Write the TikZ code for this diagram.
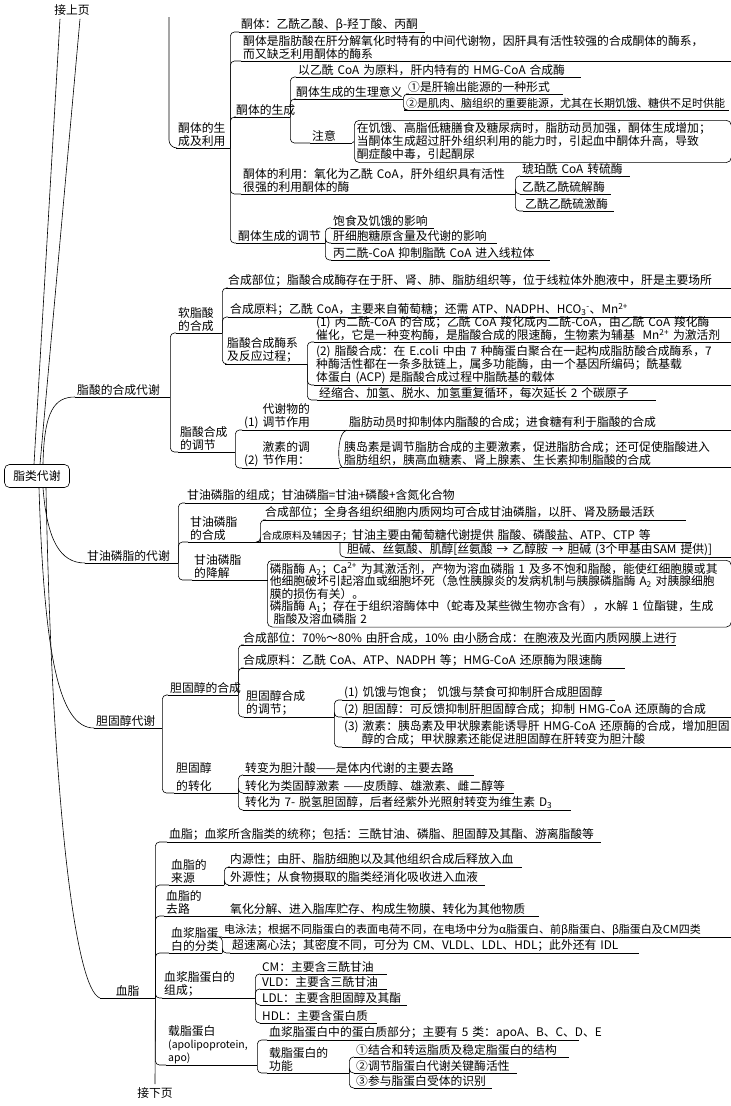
\documentclass[tikz,border=0pt]{standalone}
\usepackage{fontspec}
\setmainfont{Noto Sans CJK SC}
\hyphenpenalty=10000
\exhyphenpenalty=10000

\begin{document}
\begin{tikzpicture}[x=1pt, y=-1pt,
    font=\fontsize{11.8}{13}\selectfont,
    ln/.style={line width=0.6pt},
    br/.style={ln, rounded corners=4pt},
    lf/.style={anchor=south west, align=left, inner xsep=2pt, inner ysep=1pt,
               text width=#1pt,
               append after command={\pgfextra{\let\ulnode\tikzlastnode}
                 (\ulnode.south west) edge[ln] (\ulnode.south east)}},
    box/.style={draw, ln, rounded corners=5pt, anchor=north west, align=left,
                inner sep=2.5pt, text width=#1pt},
    tight/.style={font=\fontsize{11}{13}\selectfont},
  ]
  \useasboundingbox (0,0) rectangle (731,1106);

  % root and page links
  \node[draw, ln, rounded corners=5pt, minimum width=65pt, minimum height=23pt] (root) at (37,476) {脂类代谢};
  \node (shang) at (72,10) {接上页};
  \node (xia) at (155,1093) {接下页};
  \coordinate (kTop) at (169,17);

  % ketone bodies
  \node[lf=50]  (k0)  at (176,148) {酮体的生\\成及利用};
  \node[lf=182] (k1)  at (239,32)  {酮体：乙酰乙酸、β-羟丁酸、丙酮};
  \node[lf=486] (k2)  at (241,61)  {酮体是脂肪酸在肝分解氧化时特有的中间代谢物，因肝具有活性较强的合成酮体的酶系，\\而又缺乏利用酮体的酶系};
  \node[lf=52]  (k3)  at (234,117) {酮体的生成};
  \node[lf=270] (k4)  at (241,194) {酮体的利用：氧化为乙酰~CoA，肝外组织具有活性\\很强的利用酮体的酶};
  \node[lf=85]  (k5)  at (236,243) {酮体生成的调节};
  \node[lf=281] (k31) at (296,77)  {以乙酰~CoA~为原料，肝内特有的~HMG-CoA~合成酶};
  \node[lf=105] (k32) at (294,99)  {酮体生成的生理意义};
  \node[lf=38]  (k33) at (310,143) {注意};
  \node[box=372] (k33b) at (354,120) {在饥饿、高脂低糖膳食及糖尿病时，脂肪动员加强，酮体生成增加；\\当酮体生成超过肝外组织利用的能力时，引起血中酮体升高，导致\\酮症酸中毒，引起酮尿};
  \node[lf=153] (k321) at (406,94)  {①是肝输出能源的一种形式};
  \node[lf=321, tight] (k322) at (404,110) {②是肌肉、脑组织的重要能源，尤其在长期饥饿、糖供不足时供能};
  \node[lf=106] (k41) at (520,176) {琥珀酰~CoA~转硫酶};
  \node[lf=87]  (k42) at (520,194) {乙酰乙酰硫解酶};
  \node[lf=87]  (k43) at (523,211) {乙酰乙酰硫激酶};
  \node[lf=99]  (k51) at (331,228) {饱食及饥饿的影响};
  \node[lf=162] (k52) at (331,243) {肝细胞糖原含量及代谢的影响};
  \node[lf=215] (k53) at (331,260) {丙二酰-CoA~抑制脂酰~CoA~进入线粒体};

  % fatty acid synthesis
  \node[lf=91]  (f0)  at (75,397)  {脂酸的合成代谢};
  \node[lf=42]  (f1)  at (176,333) {软脂酸\\的合成};
  \node[lf=53]  (f2)  at (178,452) {脂酸合成\\的调节};
  \node[lf=501] (f11) at (226,288) {合成部位；脂酸合成酶存在于肝、肾、肺、脂肪组织等，位于线粒体外胞液中，肝是主要场所};
  \node[lf=499] (f12) at (228,317) {合成原料；乙酰~CoA，主要来自葡萄糖；还需~ATP、NADPH、HCO\textsubscript{3}\textsuperscript{-}、Mn\textsuperscript{2+}};
  \node[lf=78]  (f13) at (225,364) {脂酸合成酶系\\及反应过程；};
  \node[lf=413] (f131) at (314,342) {(1)~丙二酰-CoA~的合成；乙酰~CoA~羧化成丙二酰-CoA，由乙酰~CoA~羧化酶\\催化，它是一种变构酶，是脂酸合成的限速酶，生物素为辅基~~Mn\textsuperscript{2+}~为激活剂};
  \node[lf=413] (f132) at (314,385) {(2)~脂酸合成：在~E.coli~中由~7~种酶蛋白聚合在一起构成脂肪酸合成酶系，7\\种酶活性都在一条多肽链上，属多功能酶，由一个基因所编码；酰基载\\体蛋白~(ACP)~是脂酸合成过程中脂酰基的载体};
  \node[lf=335] (f133) at (317,400) {经缩合、加氢、脱水、加氢重复循环，每次延长~2~个碳原子};
  \node[lf=71]  (f21) at (242,430) {\phantom{(1)~}代谢物的\\(1)~调节作用};
  \node[lf=380] (f211) at (347,430) {脂肪动员时抑制体内脂酸的合成；进食糖有利于脂酸的合成};
  \node[lf=93]  (f22) at (242,468) {\phantom{(2)~}激素的调\\(2)~节作用：};
  \node[lf=385] (f221) at (342,467) {胰岛素是调节脂肪合成的主要激素，促进脂肪合成；还可促使脂酸进入\\脂肪组织，胰高血糖素、肾上腺素、生长素抑制脂酸的合成};

  % glycerophospholipids
  \node[lf=89]  (g0)  at (85,563)  {甘油磷脂的代谢};
  \node[lf=291] (g1)  at (185,503) {甘油磷脂的组成；甘油磷脂=甘油+磷酸+含氮化合物};
  \node[lf=68]  (g2)  at (188,542) {甘油磷脂\\的合成};
  \node[lf=71]  (g3)  at (192,580) {甘油磷脂\\的降解};
  \node[lf=419] (g21) at (263,520) {合成部位；全身各组织细胞内质网均可合成甘油磷脂，以肝、肾及肠最活跃};
  \node[lf=428] (g22) at (260,542) {{\fontsize{10}{12}\selectfont 合成原料及辅因子；}甘油主要由葡萄糖代谢提供~脂酸、磷酸盐、ATP、CTP~等};
  \coordinate (g22j) at (340,542);
  \node[lf=382] (g221) at (345,557) {胆碱、丝氨酸、肌醇[丝氨酸~→~乙醇胺~→~胆碱~(3个甲基由SAM~提供)]};
  \node[box=459, font=\fontsize{11.8}{12.6}\selectfont] (g31) at (267,560) {磷脂酶~A\textsubscript{2}；Ca\textsuperscript{2+}~为其激活剂，产物为溶血磷脂~1~及多不饱和脂酸，能使红细胞膜或其\\他细胞破坏引起溶血或细胞坏死（急性胰腺炎的发病机制与胰腺磷脂酶~A\textsubscript{2}~对胰腺细胞\\膜的损伤有关）。\\磷脂酶~A\textsubscript{1}；存在于组织溶酶体中（蛇毒及某些微生物亦含有），水解~1~位酯键，生成\\~脂酸及溶血磷脂~2};

  % cholesterol
  \node[lf=64]  (h0)  at (94,728)  {胆固醇代谢};
  \node[lf=66]  (h1)  at (168,695) {胆固醇的合成};
  \node[lf=60]  (h2)  at (174,793) {胆固醇\\[5pt]的转化};
  \node[lf=431] (h11) at (241,645) {合成部位：70\%～80\%~由肝合成，10\%~由小肠合成：在胞液及光面内质网膜上进行};
  \node[lf=380] (h12) at (241,668) {合成原料：乙酰~CoA、ATP、NADPH~等；HMG-CoA~还原酶为限速酶};
  \node[lf=86]  (h13) at (244,717) {胆固醇合成\\的调节；};
  \node[lf=269] (h131) at (342,700) {(1)~饥饿与饱食；~饥饿与禁食可抑制肝合成胆固醇};
  \node[lf=385] (h132) at (342,717) {(2)~胆固醇：可反馈抑制肝胆固醇合成；抑制~HMG-CoA~还原酶的合成};
  \node[lf=385] (h133) at (342,747) {(3)~激素：胰岛素及甲状腺素能诱导肝~HMG-CoA~还原酶的合成，增加胆固\\\hspace{1.5em}醇的合成；甲状腺素还能促进胆固醇在肝转变为胆汁酸};
  \node[lf=227] (h21) at (243,775) {转变为胆汁酸——是体内代谢的主要去路};
  \node[lf=267] (h22) at (243,793) {转化为类固醇激素~——皮质醇、雄激素、雌二醇等};
  \node[lf=324] (h23) at (243,810) {转化为~7-~脱氢胆固醇，后者经紫外光照射转变为维生素~D\textsubscript{3}};

  % blood lipids
  \node[lf=51, align=center] (b0) at (100,998) {血脂};
  \node[lf=430] (b1)  at (167,842)  {血脂；血浆所含脂类的统称；包括：三酰甘油、磷脂、胆固醇及其酯、游离脂酸等};
  \node[lf=51]  (b2)  at (169,885)  {血脂的\\来源};
  \node[lf=58]  (b3)  at (164,916)  {血脂的\\去路};
  \node[lf=49]  (b4)  at (169,953)  {血浆脂蛋\\白的分类};
  \node[lf=89]  (b5)  at (162,998)  {血浆脂蛋白的\\组成；};
  \node[lf=87]  (b6)  at (166,1065) {载脂蛋白\\{\fontsize{10.5}{13}\selectfont (apolipoprotein,}\\{\fontsize{10.5}{13}\selectfont apo)}};
  \node[lf=290] (b21) at (228,867)  {内源性；由肝、脂肪细胞以及其他组织合成后释放入血};
  \node[lf=253] (b22) at (228,885)  {外源性；从食物摄取的脂类经消化吸收进入血液};
  \node[lf=307] (b31) at (228,916)  {氧化分解、进入脂库贮存、构成生物膜、转化为其他物质};
  \node[lf=505, tight] (b41) at (222,937)  {电泳法；根据不同脂蛋白的表面电荷不同，在电场中分为α脂蛋白、前β脂蛋白、β脂蛋白及CM四类};
  \node[lf=405] (b42) at (230,953)  {超速离心法；其密度不同，可分为~CM、VLDL、LDL、HDL；此外还有~IDL};
  \node[lf=123] (b51) at (260,974)  {\textit{CM}：主要含三酰甘油};
  \node[lf=123] (b52) at (260,989)  {VLD：主要含三酰甘油};
  \node[lf=143] (b53) at (260,1005) {LDL：主要含胆固醇及其酯};
  \node[lf=113] (b54) at (260,1023) {HDL：主要含蛋白质};
  \node[lf=308] (b61) at (267,1040) {血浆脂蛋白中的蛋白质部分；主要有~5~类：apoA、B、C、D、E};
  \node[lf=78]  (b62) at (267,1073) {载脂蛋白的\\功能};
  \node[lf=211] (b621) at (354,1057) {①结合和转运脂质及稳定脂蛋白的结构};
  \node[lf=159] (b622) at (354,1073) {②调节脂蛋白代谢关键酶活性};
  \node[lf=134] (b623) at (354,1088) {③参与脂蛋白受体的识别};

  % trunk lines
  \draw[ln] ([xshift=-3pt]root.north) -- ([xshift=-12pt]shang.south);
  \draw[ln] ([xshift=3pt]root.north) -- ([xshift=8pt]shang.south);
  \draw[ln, rounded corners=8pt] (kTop) |- (k0.south west);
  \draw[ln] ([xshift=6pt]root.north) .. controls (44,410) and (55,397) .. (f0.south west);
  \draw[ln] ([xshift=6pt]root.south) .. controls (47,540) and (60,563) .. (g0.south west);
  \draw[ln] ([xshift=2pt]root.south) .. controls (44,650) and (58,728) .. (h0.south west);
  \draw[ln] ([xshift=9pt]root.south) .. controls (52,800) and (75,990) .. (b0.south west);
  \draw[ln] (b0.south east) -- (xia.north);

  % ketone bodies branches
  \draw[br] (k0.south east) |- (k1.south west);
  \draw[br] (k0.south east) |- (k2.south west);
  \draw[br] (k0.south east) |- (k3.south west);
  \draw[br] (k0.south east) |- (k4.south west);
  \draw[br] (k0.south east) |- (k5.south west);
  \draw[br] (k3.south east) |- (k31.south west);
  \draw[br] (k3.south east) |- (k32.south west);
  \draw[br] (k3.south east) |- (k33.south west);
  \draw[ln] (k33.south east) to[out=0, in=180] (k33b.west);
  \draw[br] (k32.south east) |- (k321.south west);
  \draw[br] (k32.south east) |- (k322.south west);
  \draw[br] (k4.south east) |- (k41.south west);
  \draw[br] (k4.south east) |- (k42.south west);
  \draw[br] (k4.south east) |- (k43.south west);
  \draw[br] (k5.south east) |- (k51.south west);
  \draw[br] (k5.south east) |- (k52.south west);
  \draw[br] (k5.south east) |- (k53.south west);

  % fatty acid branches
  \draw[br] (f0.south east) |- (f1.south west);
  \draw[br] (f0.south east) |- (f2.south west);
  \draw[br] (f1.south east) |- (f11.south west);
  \draw[br] (f1.south east) |- (f12.south west);
  \draw[br] (f1.south east) |- (f13.south west);
  \draw[br] (f13.south east) |- (f131.south west);
  \draw[br] (f13.south east) |- (f132.south west);
  \draw[br] (f13.south east) |- (f133.south west);
  \draw[br] (f2.south east) |- (f21.south west);
  \draw[br] (f2.south east) |- (f22.south west);
  \draw[ln] (f21.south east) -- (f211.south west);
  \draw[ln] (f22.south east) -- (f221.south west);
  \draw[ln] (f211.south west) .. controls (337,432) and (337,465) .. (f221.south west);

  % glycerophospholipid branches
  \draw[br] (g0.south east) |- (g1.south west);
  \draw[br] (g0.south east) |- (g2.south west);
  \draw[br] (g0.south east) |- (g3.south west);
  \draw[br] (g2.south east) |- (g21.south west);
  \draw[br] (g2.south east) |- (g22.south west);
  \draw[br] (g22j) |- (g221.south west);
  \draw[ln] (g3.south east) -- (g3.south east -| g31.west);

  % cholesterol branches
  \draw[br] (h0.south east) |- (h1.south west);
  \draw[br] (h0.south east) |- (h2.south west);
  \draw[br] (h1.south east) |- (h11.south west);
  \draw[br] (h1.south east) |- (h12.south west);
  \draw[br] (h1.south east) |- (h13.south west);
  \draw[br] (h13.south east) |- (h131.south west);
  \draw[br] (h13.south east) |- (h132.south west);
  \draw[br] (h13.south east) |- (h133.south west);
  \draw[br] (h2.south east) |- (h21.south west);
  \draw[br] (h2.south east) |- (h22.south west);
  \draw[br] (h2.south east) |- (h23.south west);

  % blood lipid branches
  \draw[br] (b0.south east) |- (b1.south west);
  \draw[br] (b0.south east) |- (b2.south west);
  \draw[br] (b0.south east) |- (b3.south west);
  \draw[br] (b0.south east) |- (b4.south west);
  \draw[br] (b0.south east) |- (b5.south west);
  \draw[br] (b0.south east) |- (b6.south west);
  \draw[br] (b2.south east) |- (b21.south west);
  \draw[br] (b2.south east) |- (b22.south west);
  \draw[ln] (b3.south east) -- (b31.south west);
  \draw[br] (b4.south east) |- (b41.south west);
  \draw[br] (b4.south east) |- (b42.south west);
  \draw[br] (b5.south east) |- (b51.south west);
  \draw[br] (b5.south east) |- (b52.south west);
  \draw[br] (b5.south east) |- (b53.south west);
  \draw[br] (b5.south east) |- (b54.south west);
  \draw[br] (b6.south east) |- (b61.south west);
  \draw[br] (b6.south east) |- (b62.south west);
  \draw[br] (b62.south east) |- (b621.south west);
  \draw[br] (b62.south east) |- (b622.south west);
  \draw[br] (b62.south east) |- (b623.south west);
\end{tikzpicture}
\end{document}
